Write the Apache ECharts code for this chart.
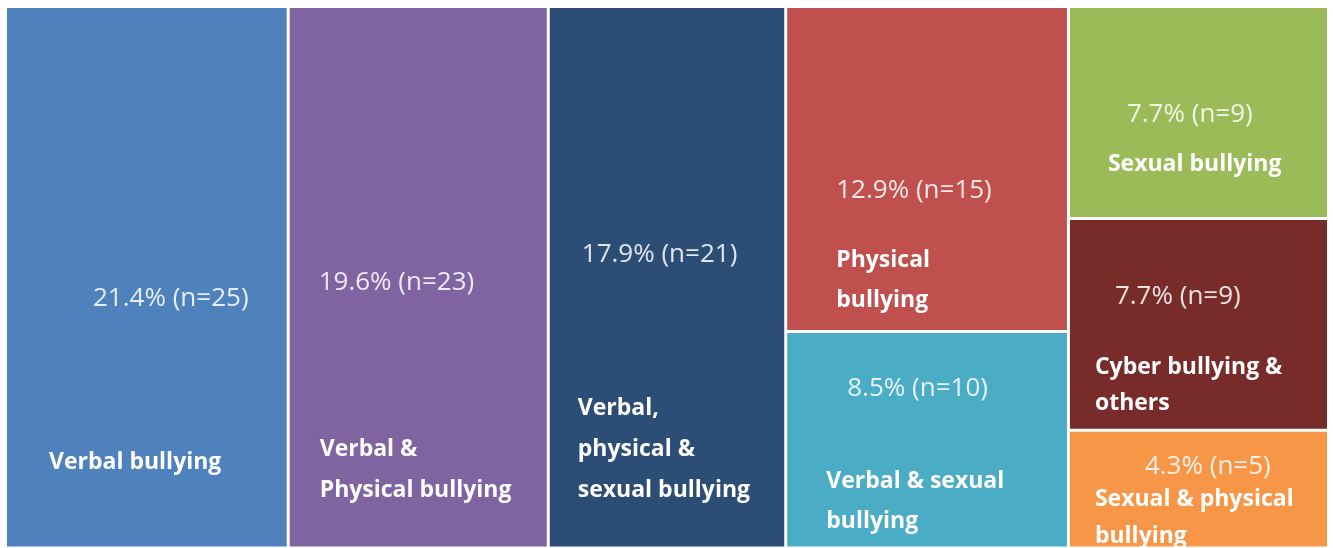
<!DOCTYPE html>
<html>
<head>
<meta charset="utf-8">
<script src="https://cdn.jsdelivr.net/npm/echarts@6/dist/echarts.min.js"></script>
<style>
  html, body { margin: 0; padding: 0; background: #fff; }
  #chart { width: 1333px; height: 548px; }
</style>
</head>
<body>
<div id="chart"></div>
<script>
// data
const categories = [
  'Verbal bullying',
  'Verbal & Physical bullying',
  'Verbal, physical & sexual bullying',
  'Physical bullying',
  'Verbal & sexual bullying',
  'Sexual bullying',
  'Cyber bullying & others',
  'Sexual & physical bullying'
];
const counts = [25, 23, 21, 15, 10, 9, 9, 5];
const percents = ['21.4%', '19.6%', '17.9%', '12.9%', '8.5%', '7.7%', '7.7%', '4.3%'];
const displayNames = [
  'Verbal bullying',
  'Verbal &\nPhysical bullying',
  'Verbal,\nphysical &\nsexual bullying',
  'Physical\nbullying',
  'Verbal & sexual\nbullying',
  'Sexual bullying',
  'Cyber bullying &\nothers',
  'Sexual & physical\nbullying'
];
// which categories share a column
const columns = [[0], [1], [2], [3, 4], [5, 6, 7]];

// styles
const colors = ['#4F81BD', '#8064A2', '#2C4D75', '#C0504D', '#4BACC6', '#9BBB59', '#772C2A', '#F79646'];
// label offsets inside each tile: [pctX, pctY, nameX, nameY, lineHeight]
const labelOffsets = [
  [86, 291, 42, 434, 41],
  [29, 275, 30, 421, 41],
  [32, 247, 28, 380, 41],
  [49, 183, 49, 232, 40],
  [60, 56, 39, 129, 40],
  [57, 107, 38, 136, 40],
  [45, 77, 25, 130, 36],
  [75, 35, 25, 49, 37]
];

function leaf(i, withName) {
  const o = labelOffsets[i];
  return {
    name: categories[i],
    value: counts[i],
    itemStyle: {
      color: withName ? 'rgba(0,0,0,0)' : colors[i],
      borderColor: withName ? 'rgba(0,0,0,0)' : '#fff'
    },
    label: withName ? {
      position: [o[2], o[3]],
      align: 'left',
      verticalAlign: 'top',
      padding: 0,
      lineHeight: o[4],
      fontFamily: 'Open Sans',
      fontWeight: 'bold',
      fontSize: 23,
      color: '#fff',
      formatter: displayNames[i]
    } : {
      position: [o[0], o[1]],
      align: 'left',
      verticalAlign: 'middle',
      padding: 0,
      fontFamily: 'Open Sans',
      fontSize: 26,
      color: 'rgba(255,255,255,0.86)',
      formatter: percents[i] + ' (n=' + counts[i] + ')'
    }
  };
}

function buildData(withName) {
  return columns.map(function (col) {
    if (col.length === 1) return leaf(col[0], withName);
    return {
      name: col.map(function (i) { return categories[i]; }).join(' / '),
      itemStyle: { borderWidth: 0, gapWidth: 0, color: 'rgba(0,0,0,0)', borderColor: 'rgba(0,0,0,0)' },
      label: { show: false },
      children: col.map(function (i) { return leaf(i, withName); })
    };
  });
}

function makeSeries(withName) {
  return {
    type: 'treemap',
    left: 5.5,
    top: 6.5,
    right: 4.5,
    bottom: 0,
    sort: false,
    squareRatio: 0.01,
    roam: false,
    nodeClick: false,
    silent: true,
    animation: false,
    breadcrumb: { show: false },
    itemStyle: { borderWidth: 1.5, borderColor: '#fff', gapWidth: 0 },
    levels: [
      { itemStyle: { borderWidth: 0, gapWidth: 0, color: 'rgba(0,0,0,0)', borderColor: 'rgba(0,0,0,0)' } }
    ],
    label: { show: true, overflow: 'none', padding: 0 },
    upperLabel: { show: false },
    data: buildData(withName)
  };
}

const chart = echarts.init(document.getElementById('chart'));
chart.setOption({
  animation: false,
  tooltip: { show: false },
  series: [makeSeries(false), makeSeries(true)]
});
window.addEventListener('resize', function () { chart.resize(); });
</script>
</body>
</html>
